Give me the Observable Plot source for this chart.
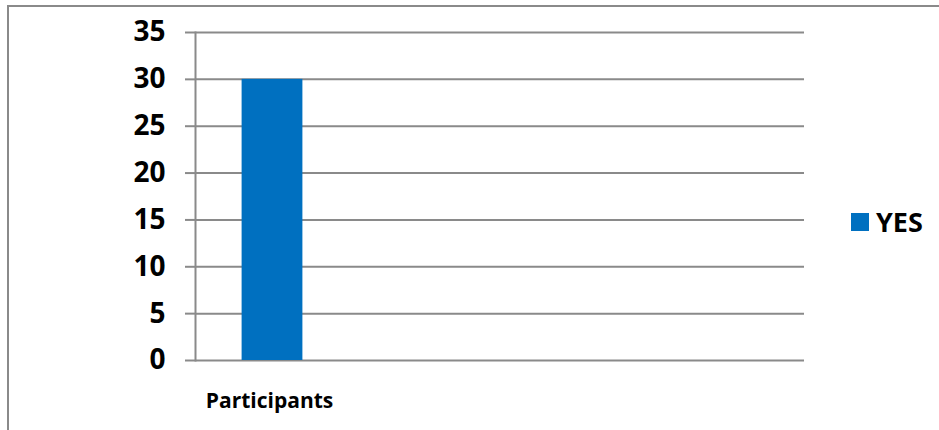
<!DOCTYPE html>
<html>
<head>
<meta charset="utf-8">
<script src="https://cdn.jsdelivr.net/npm/d3@7"></script>
<script src="https://cdn.jsdelivr.net/npm/@observablehq/plot@0.6"></script>
<style>
  html, body { margin: 0; padding: 0; background: #fff; }
  #wrap { position: relative; width: 939px; height: 430px; overflow: hidden; font-family: "Open Sans", sans-serif; }
  #border { position: absolute; left: 7px; top: 5px; width: 940px; height: 440px; border-left: 2px solid #8a8a8a; border-top: 2px solid #8a8a8a; box-sizing: border-box; }
  #legend { position: absolute; left: 851px; top: 203px; display: flex; align-items: center; font-weight: bold; font-size: 27px; color: #000; }
  #legend .sw { width: 18px; height: 18px; background: #0070c0; margin-right: 7px; }
  #chart { position: absolute; left: 0; top: 0; }
</style>
</head>
<body>
<div id="wrap">
  <div id="chart"></div>
  <div id="border"></div>
  <div id="legend"><div class="sw"></div><span id="legendLabel"></span></div>
</div>
<script>
const categories = ["Participants", "", "", ""];
const seriesName = "YES";
const yesValues = [30, null, null, null];
const yTicks = [0, 5, 10, 15, 20, 25, 30, 35];

const data = categories.map((c, i) => ({i, label: c, value: yesValues[i]})).filter(d => d.value != null);

document.getElementById("legendLabel").textContent = seriesName;

const chart = Plot.plot({
  width: 939,
  height: 430,
  marginLeft: 195,
  marginRight: 135,
  marginTop: 32,
  marginBottom: 70,
  style: {fontFamily: "Open Sans, sans-serif", background: "transparent"},
  x: {type: "band", domain: d3.range(categories.length), padding: 0, axis: null},
  y: {domain: [0, 35], axis: null},
  marks: [
    Plot.ruleY(yTicks, {stroke: "#8a8a8a", strokeWidth: 2, strokeOpacity: 1}),
    Plot.axisY({ticks: yTicks, tickSize: 10, tickPadding: 20, stroke: "#8a8a8a", strokeWidth: 2, fontSize: 28, fontWeight: "bold", fill: "#000", label: null}),
    Plot.axisX({tickSize: 0, tickPadding: 33, dx: -3, fontSize: 21, fontWeight: "bold", fill: "#000", tickFormat: i => categories[i], label: null}),
    Plot.barY(data, {x: "i", y: "value", fill: "#0070c0", insetLeft: 45.6, insetRight: 45.6}),
    Plot.frame({anchor: "left", stroke: "#8a8a8a", strokeWidth: 2})
  ]
});
document.getElementById("chart").appendChild(chart);
</script>
</body>
</html>
